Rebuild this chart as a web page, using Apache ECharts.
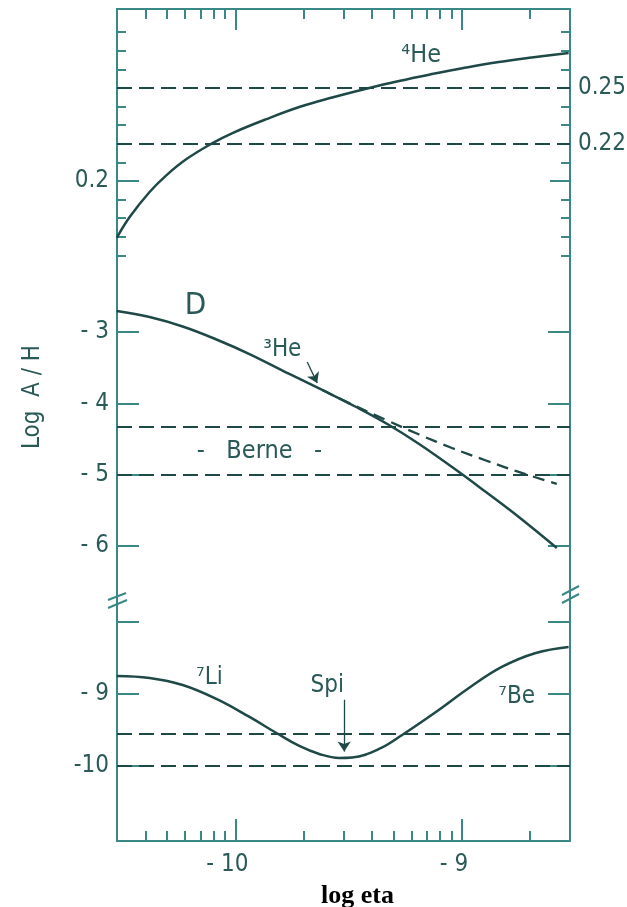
<!DOCTYPE html>
<html>
<head>
<meta charset="utf-8">
<script src="https://cdn.jsdelivr.net/npm/echarts@6/dist/echarts.min.js"></script>
<style>
  html, body { margin: 0; padding: 0; background: #fff; }
  #main { width: 627px; height: 907px; }
</style>
</head>
<body>
<div id="main"></div>
<script>
// x axis is log10(eta); the frame runs from eta = 3e-11 to 3e-9
const logEtaMin = Math.log10(3e-11);
const logEtaMax = Math.log10(3e-9);
const minorTickEta = [4e-11, 5e-11, 6e-11, 7e-11, 8e-11, 9e-11,
  2e-10, 3e-10, 4e-10, 5e-10, 6e-10, 7e-10, 8e-10, 9e-10, 2e-9];
const majorTickLogEta = [-10, -9];

// top panel: 4He mass fraction
const he4LogEta = [-10.524, -10.467, -10.379, -10.304, -10.216, -10.101, -10.013, -9.863,
  -9.718, -9.573, -9.427, -9.278, -9.132, -8.982, -8.837, -8.692, -8.529];
const he4Yp = [0.1694, 0.1806, 0.1941, 0.2032, 0.2118, 0.2204, 0.2258, 0.2333,
  0.2398, 0.2449, 0.2495, 0.2538, 0.2575, 0.2610, 0.2640, 0.2664, 0.2688];
const ypShortTicks = [0.16, 0.17, 0.18, 0.19, 0.21, 0.22, 0.23, 0.24, 0.25, 0.26, 0.27, 0.28];
const ypLongTicks = [0.2];
const ypRightLabels = [0.25, 0.22];
const ypLimits = [0.25, 0.22];

// middle panel: D and 3He, log A/H
const dLogEta = [-10.524, -10.379, -10.233, -10.084, -9.938, -9.762, -9.617,
  -9.467, -9.322, -9.189, -9.013, -8.894, -8.749, -8.581];
const dLogAH = [-2.705, -2.790, -2.923, -3.105, -3.309, -3.589, -3.813,
  -4.052, -4.304, -4.571, -4.964, -5.245, -5.595, -6.030];
const he3LogEta = [-9.617, -9.485, -9.335, -9.189, -9.044, -8.894, -8.749, -8.581];
const he3LogAH = [-3.813, -4.017, -4.234, -4.438, -4.627, -4.802, -4.963, -5.131];
const midTicks = [-3, -4, -5, -6];
const bernLimits = [-4.33, -5];

// bottom panel: 7Li
const liLogEta = [-10.524, -10.379, -10.233, -10.084, -9.938, -9.819, -9.718, -9.630, -9.542,
  -9.485, -9.366, -9.264, -9.115, -8.969, -8.824, -8.674, -8.529];
const liLogAH = [-8.750, -8.778, -8.875, -9.069, -9.319, -9.542, -9.722, -9.833, -9.889,
  -9.882, -9.764, -9.569, -9.250, -8.917, -8.625, -8.431, -8.347];
const lowTicks = [-8, -9, -10];
const lowLabels = [-9, -10];
const spiteLimits = [-9.55, -10];

const AXIS = '#3a8885';
const INK = '#1e4947';
const TEXT = '#2a5a58';
const FONT = "'DejaVu Sans Condensed', 'Liberation Sans Narrow', 'DejaVu Sans', sans-serif";

const zip = (xs, ys) => xs.map((x, i) => [x, ys[i]]);
const minorTicks = minorTickEta.map((e) => Math.log10(e));
const yMinus = (v) => (Math.abs(v) >= 10 ? '-' : '- ') + Math.abs(v);
const xMinus = (v) => '- ' + Math.abs(v);

function tickAxis(extra, ticks, len, showLine) {
  return Object.assign({
    type: 'value',
    axisLine: { show: showLine, lineStyle: { color: AXIS, width: 2 } },
    axisTick: { show: true, inside: true, length: len, customValues: ticks,
      lineStyle: { color: AXIS, width: 2 } },
    axisLabel: { show: false },
    splitLine: { show: false }
  }, extra);
}

function labels(values, fmt, extra) {
  return Object.assign({ show: true, customValues: values, formatter: fmt, color: TEXT,
    fontFamily: FONT, fontSize: 24, margin: 8 }, extra || {});
}

const dashed = (values, key) => ({
  silent: true, symbol: 'none', label: { show: false },
  lineStyle: { color: INK, type: [15, 7], width: 2 },
  data: values.map((v) => ({ [key]: v }))
});

const textMarks = (items) => ({
  symbol: 'rect', symbolSize: 1, itemStyle: { color: 'rgba(0,0,0,0)' },
  label: { show: true, position: 'inside', color: TEXT, fontFamily: FONT, fontSize: 24 },
  data: items
});

const arrow = (from, to) => ({
  silent: true, symbol: ['none', 'arrow'], symbolSize: 10, label: { show: false },
  itemStyle: { color: INK },
  lineStyle: { color: INK, type: 'solid', width: 1.3 },
  data: [[{ coord: from }, { coord: to }]]
});

const xr = { min: logEtaMin, max: logEtaMax };
const yTop = { min: 0.15, max: 0.2925 };
const yMid = { min: -6.731, max: -2.1865 };
const yLow = { min: -11.042, max: -7.667 };

const chart = echarts.init(document.getElementById('main'));
chart.setOption({
  animation: false,
  backgroundColor: '#fff',
  grid: [
    { left: 117, right: 57, top: 9, height: 265, outerBoundsMode: 'none' },
    { left: 117, right: 57, top: 274, height: 324, outerBoundsMode: 'none' },
    { left: 117, right: 57, top: 598, height: 243, outerBoundsMode: 'none' }
  ],
  xAxis: [
    tickAxis(Object.assign({ gridIndex: 0, position: 'top' }, xr), minorTicks, 10, true),
    tickAxis(Object.assign({ gridIndex: 0, position: 'top' }, xr), majorTickLogEta, 21, false),
    Object.assign({ type: 'value', gridIndex: 1, show: false }, xr),
    tickAxis(Object.assign({ gridIndex: 2, position: 'bottom' }, xr), minorTicks, 10, true),
    Object.assign(tickAxis(Object.assign({ gridIndex: 2, position: 'bottom' }, xr), majorTickLogEta, 22, false), {
      axisLabel: labels(majorTickLogEta, xMinus, { margin: 12, padding: [0, 16, 0, 0] }),
      name: 'log eta', nameLocation: 'middle', nameGap: 42,
      nameTextStyle: { fontFamily: "'Liberation Serif', serif", fontWeight: 'bold', fontSize: 26,
        color: '#000', padding: [0, 0, 0, 28] }
    })
  ],
  yAxis: [
    tickAxis(Object.assign({ gridIndex: 0, position: 'left' }, yTop), ypShortTicks, 9, true),
    Object.assign(tickAxis(Object.assign({ gridIndex: 0, position: 'left' }, yTop), ypLongTicks, 22, false), {
      axisLabel: labels(ypLongTicks, (v) => String(v))
    }),
    Object.assign(tickAxis(Object.assign({ gridIndex: 0, position: 'right' }, yTop), ypShortTicks, 9, true), {
      axisLabel: labels(ypRightLabels, (v) => v.toFixed(2))
    }),
    tickAxis(Object.assign({ gridIndex: 0, position: 'right' }, yTop), ypLongTicks, 20, false),
    Object.assign(tickAxis(Object.assign({ gridIndex: 1, position: 'left' }, yMid), midTicks, 22, true), {
      axisLabel: labels(midTicks, yMinus),
      name: 'Log  A / H', nameLocation: 'middle', nameGap: 72,
      nameTextStyle: { fontFamily: FONT, fontSize: 24, color: TEXT, padding: [0, 0, 0, 78] }
    }),
    tickAxis(Object.assign({ gridIndex: 1, position: 'right' }, yMid), midTicks, 22, true),
    Object.assign(tickAxis(Object.assign({ gridIndex: 2, position: 'left' }, yLow), lowTicks, 22, true), {
      axisLabel: labels(lowLabels, yMinus)
    }),
    tickAxis(Object.assign({ gridIndex: 2, position: 'right' }, yLow), lowTicks, 22, true)
  ],
  series: [
    {
      name: '4He', type: 'line', xAxisIndex: 0, yAxisIndex: 0,
      data: zip(he4LogEta, he4Yp), smooth: 0.4, showSymbol: false,
      lineStyle: { color: INK, width: 2.5 },
      markLine: dashed(ypLimits, 'yAxis'),
      markPoint: textMarks([{ coord: [-9.18, 0.2677], label: { formatter: '⁴He', fontSize: 25 } }])
    },
    {
      name: 'D', type: 'line', xAxisIndex: 2, yAxisIndex: 4,
      data: zip(dLogEta, dLogAH), smooth: 0.4, showSymbol: false,
      lineStyle: { color: INK, width: 2.5 },
      markLine: dashed(bernLimits, 'yAxis'),
      markPoint: textMarks([
        { coord: [-10.176, -2.635], label: { formatter: 'D', fontSize: 31 } },
        { coord: [-9.793, -3.25], label: { formatter: '³He' } },
        { coord: [-9.894, -4.67], label: { formatter: '-   Berne   -', fontSize: 25 } }
      ])
    },
    {
      name: '3He', type: 'line', xAxisIndex: 2, yAxisIndex: 4,
      data: zip(he3LogEta, he3LogAH), smooth: 0.4, showSymbol: false,
      lineStyle: { color: INK, width: 2.3, type: [12, 7] },
      markLine: arrow([-9.683, -3.42], [-9.639, -3.715])
    },
    {
      name: '7Li', type: 'line', xAxisIndex: 3, yAxisIndex: 6,
      data: zip(liLogEta, liLogAH), smooth: 0.4, showSymbol: false,
      lineStyle: { color: INK, width: 2.5 },
      markLine: dashed(spiteLimits, 'yAxis'),
      markPoint: textMarks([
        { coord: [-10.115, -8.78], label: { formatter: '⁷Li' } },
        { coord: [-9.595, -8.89], label: { formatter: 'Spi' } },
        { coord: [-8.758, -9.04], label: { formatter: '⁷Be' } }
      ])
    },
    {
      name: 'Spi arrow', type: 'line', xAxisIndex: 3, yAxisIndex: 6, data: [],
      markLine: arrow([-9.52, -9.08], [-9.52, -9.80])
    }
  ],
  graphic: [
    { type: 'line', shape: { x1: 108, y1: 600, x2: 126, y2: 593 }, style: { stroke: AXIS, lineWidth: 2 } },
    { type: 'line', shape: { x1: 108, y1: 608, x2: 127, y2: 600 }, style: { stroke: AXIS, lineWidth: 2 } },
    { type: 'line', shape: { x1: 562, y1: 595, x2: 579, y2: 586 }, style: { stroke: AXIS, lineWidth: 2 } },
    { type: 'line', shape: { x1: 562, y1: 603, x2: 579, y2: 594 }, style: { stroke: AXIS, lineWidth: 2 } }
  ]
});
</script>
</body>
</html>
